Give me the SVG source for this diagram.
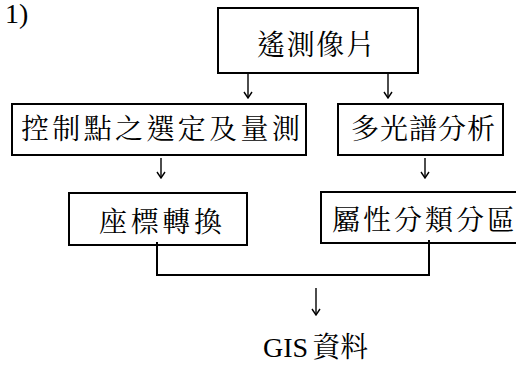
<svg xmlns="http://www.w3.org/2000/svg" width="516" height="365" viewBox="0 0 516 365">
<defs>
<style>
.box{fill:#fff;stroke:#000;stroke-width:2}
.t{font-family:"Noto Serif CJK TC","Noto Sans CJK TC","Liberation Serif",serif;font-size:28px;fill:#000}
.g{font-family:"Liberation Serif","Noto Sans CJK TC",serif;font-size:28px;fill:#000}
.c{fill:none;stroke:#000;stroke-width:2}
.a{fill:none;stroke:#000;stroke-width:1.4}
</style>
<marker id="ah" markerWidth="10" markerHeight="10" refX="9" refY="5" orient="auto" markerUnits="userSpaceOnUse" viewBox="0 0 10 10">
<path d="M3,1 L9,5 L3,9" fill="none" stroke="#000" stroke-width="1.4"/>
</marker>
</defs>
<text class="g" x="5" y="23" font-size="22">1)</text>
<g id="n1"><rect class="box" x="218" y="8" width="200" height="65"/><text class="t" x="257" y="55" textLength="117" lengthAdjust="spacing">遙測像片</text></g>
<g id="n2"><rect class="box" x="12" y="104" width="294" height="51"/><text class="t" x="21" y="139" textLength="279" lengthAdjust="spacing">控制點之選定及量測</text></g>
<g id="n3"><rect class="box" x="338" y="104" width="165" height="51"/><text class="t" x="351" y="139" textLength="144" lengthAdjust="spacing">多光譜分析</text></g>
<g id="n4"><rect class="box" x="69" y="193" width="178" height="52"/><text class="t" x="99" y="232" textLength="123" lengthAdjust="spacing">座標轉換</text></g>
<g id="n5"><rect class="box" x="321" y="192" width="200" height="51"/><text class="t" x="332" y="230" textLength="183" lengthAdjust="spacing">屬性分類分區</text></g>
<g id="n6"><text class="g" x="263" y="357">GIS<tspan class="t" dx="4">資料</tspan></text></g>
<g id="connectors">
<line class="a" x1="248" y1="74" x2="248" y2="98" marker-end="url(#ah)"/>
<line class="a" x1="388" y1="74" x2="388" y2="98" marker-end="url(#ah)"/>
<line class="a" x1="161" y1="158" x2="161" y2="178" marker-end="url(#ah)"/>
<line class="a" x1="425" y1="158" x2="425" y2="178" marker-end="url(#ah)"/>
<polyline class="c" points="157,242 157,275 429,275 429,240"/>
<line class="a" x1="316" y1="288" x2="316" y2="315" marker-end="url(#ah)"/>
</g>
</svg>
